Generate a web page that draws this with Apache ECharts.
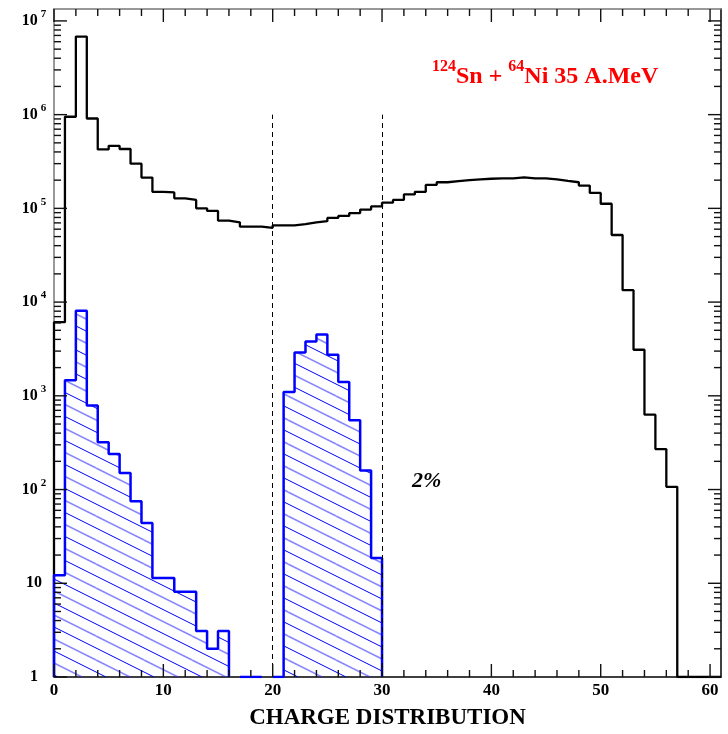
<!DOCTYPE html>
<html>
<head>
<meta charset="utf-8">
<script src="https://cdn.jsdelivr.net/npm/echarts@6/dist/echarts.min.js"></script>
<style>
  html, body { margin: 0; padding: 0; background: #fff; }
  #chart { width: 728px; height: 734px; }
</style>
</head>
<body>
<div id="chart"></div>
<script>
// one bin per unit of Z, bin i covers [i, i+1]
var allCounts = [
  6.1e3, 9.5e5, 6.8e6, 9.1e5, 4.25e5, 4.65e5, 4.3e5, 3.0e5, 2.13e5, 1.5e5,
  1.48e5, 1.28e5, 1.23e5, 1.0e5, 9.4e4, 7.4e4, 7.1e4, 6.4e4, 6.4e4, 6.2e4,
  6.6e4, 6.6e4, 6.8e4, 7.1e4, 7.3e4, 7.9e4, 8.3e4, 8.9e4, 9.7e4, 1.05e5,
  1.15e5, 1.23e5, 1.41e5, 1.5e5, 1.78e5, 1.9e5, 1.95e5, 2.0e5, 2.04e5, 2.07e5,
  2.09e5, 2.09e5, 2.14e5, 2.09e5, 2.09e5, 2.04e5, 1.96e5, 1.9e5, 1.75e5, 1.46e5,
  1.12e5, 5.2e4, 1.34e4, 3.1e3, 630, 270, 107, 1, 1, 1,
  1
];
// selected events (hatched), 0 = empty bin
var selCounts = [
  12.2, 1470, 8100, 790, 320, 240, 150, 75, 44, 11.4,
  11.4, 8.1, 8.1, 3.1, 2.0, 3.1, 0, 1, 1, 0,
  1, 1100, 2900, 3800, 4500, 2750, 1400, 550, 160, 18.6
];
var xTicks = [0, 10, 20, 30, 40, 50, 60];
var yTicks = [1, 10, 100, 1e3, 1e4, 1e5, 1e6, 1e7];
var cutZ = [20, 30];
var cutTop = 1e6;

var xMax = 61;
var yMax = 1.34e7;

var xMinor = [];
for (var i = 2; i < xMax; i += 2) if (i % 10 !== 0) xMinor.push(i);
var yMinor = [];
for (var k = 0; k < 7; k++) for (var m = 2; m < 10; m++) yMinor.push(m * Math.pow(10, k));

var serif = '"Liberation Serif", "Times New Roman", serif';

// outline points of a histogram, breaking the line on empty bins
function histPoints(vals) {
  var pts = [];
  vals.forEach(function (v, i) {
    var prev = i > 0 ? vals[i - 1] : 0;
    if (v > 0) {
      if (prev === 0) pts.push([i, 1]);
      pts.push([i, v], [i + 1, v]);
    } else if (prev > 0) {
      pts.push([i, 1], [i, '-']);
    }
  });
  if (vals[vals.length - 1] > 0) pts.push([vals.length, 1]);
  return pts;
}

function hatch() {
  var c = document.createElement('canvas');
  c.width = 48; c.height = 24;
  var g = c.getContext('2d');
  [-24, -12, 0, 12, 24].forEach(function (off) {
    var odd = Math.abs(off / 12) % 2 === 1;
    g.strokeStyle = odd ? 'rgba(40,40,255,0.55)' : '#0000ee';
    g.lineWidth = odd ? 1.6 : 1;
    g.beginPath();
    g.moveTo(0, off);
    g.lineTo(48, off + 24);
    g.stroke();
  });
  return c;
}

var cutLines = cutZ.map(function (z) {
  return [{ coord: [z, 1] }, { coord: [z, cutTop] }];
});

// y ticks drawn on left and right edges
var yTickData = [];
yTicks.forEach(function (v) { yTickData.push([30, v, 13]); });
yMinor.forEach(function (v) { yTickData.push([30, v, 7]); });

function tickLine(x1, y1, x2, y2) {
  return { type: 'line', shape: { x1: x1, y1: y1, x2: x2, y2: y2 }, style: { stroke: '#111', lineWidth: 1.4 }, silent: true, z: 10 };
}

function renderYTick(params, api) {
  var v = api.value(1);
  var len = api.value(2);
  var l = api.coord([0, v]);
  var r = api.coord([xMax, v]);
  return {
    type: 'group',
    children: [
      tickLine(l[0], l[1], l[0] + len, l[1]),
      tickLine(r[0], r[1], r[0] - len, r[1])
    ]
  };
}

var texts = [
  {
    id: 'reaction', type: 'text', left: 432, top: 59,
    style: {
      text: '{s|124}{m|Sn + }{s|64}{m|Ni 35 A.MeV}',
      rich: {
        m: { fontFamily: serif, fontWeight: 'bold', fontSize: 24, lineHeight: 36, fill: '#ff0000' },
        s: { fontFamily: serif, fontWeight: 'bold', fontSize: 16, lineHeight: 16, verticalAlign: 'top', fill: '#ff0000' }
      }
    }
  },
  {
    id: 'frac', type: 'text', left: 412, top: 470,
    style: { text: '2%', font: 'italic bold 22px ' + serif, fill: '#000' }
  }
];

var chart = echarts.init(document.getElementById('chart'));
chart.setOption({
  animation: false,
  backgroundColor: '#fff',
  grid: { left: 54, right: 7, top: 9, bottom: 57, containLabel: false, outerBoundsMode: 'none' },
  xAxis: [
    {
      type: 'value', position: 'bottom', min: 0, max: xMax,
      axisLine: { onZero: false, lineStyle: { color: '#000', width: 1.5 } },
      axisTick: { show: false },
      axisLabel: { customValues: xTicks, margin: 5, fontFamily: serif, fontWeight: 'bold', fontSize: 17, color: '#000' },
      splitLine: { show: false },
      name: 'CHARGE DISTRIBUTION',
      nameLocation: 'middle',
      nameGap: 30,
      nameTextStyle: { fontFamily: serif, fontWeight: 'bold', fontSize: 23, color: '#000' }
    },
    {
      type: 'value', position: 'top', min: 0, max: xMax,
      axisLine: { onZero: false, lineStyle: { color: '#777', width: 1.5 } },
      axisTick: { show: false }, axisLabel: { show: false }, splitLine: { show: false }
    }
  ],
  yAxis: [
    {
      type: 'log', logBase: 10, position: 'left', min: 1, max: yMax,
      axisLine: { onZero: false, lineStyle: { color: '#777', width: 1.5 } },
      axisTick: { show: false },
      axisLabel: {
        customValues: yTicks, margin: 20, align: 'center',
        formatter: function (v) {
          var e = Math.round(Math.log10(v));
          if (e === 0) return '{m|1}';
          if (e === 1) return '{m|10}';
          return '{m|10}{s|' + e + '}';
        },
        rich: {
          m: { fontFamily: serif, fontWeight: 'bold', fontSize: 16, lineHeight: 24, color: '#000' },
          s: { fontFamily: serif, fontWeight: 'bold', fontSize: 11, lineHeight: 11, verticalAlign: 'top', padding: [0, 0, 0, 3], color: '#000' }
        }
      },
      splitLine: { show: false }
    },
    {
      type: 'log', logBase: 10, position: 'right', min: 1, max: yMax,
      axisLine: { onZero: false, lineStyle: { color: '#000', width: 1.5 } },
      axisTick: { show: false }, axisLabel: { show: false }, splitLine: { show: false }
    }
  ],
  series: [
    {
      type: 'line',
      name: 'all',
      data: histPoints(allCounts),
      symbol: 'none',
      lineStyle: { color: '#000', width: 2.3 },
      z: 3,
      markLine: {
        silent: true,
        symbol: ['none', 'none'],
        label: { show: false },
        lineStyle: { color: '#000', width: 1, type: [5, 4] },
        data: cutLines
      }
    },
    {
      type: 'line',
      name: 'selected',
      data: histPoints(selCounts),
      symbol: 'none',
      lineStyle: { color: '#0000ff', width: 2.5 },
      areaStyle: { origin: 'start', color: { image: hatch(), repeat: 'repeat' }, opacity: 1 },
      z: 4
    },
    {
      type: 'custom', name: 'yticks', data: yTickData,
      renderItem: renderYTick, clip: false, silent: true, z: 5
    }
  ],
  graphic: texts
});

// x ticks on bottom and top edges, placed through the axis scale
var xTickEls = [];
function addXTicks(vals, len) {
  vals.forEach(function (v) {
    var lo = chart.convertToPixel({ xAxisIndex: 0, yAxisIndex: 0 }, [v, 1]);
    var hi = chart.convertToPixel({ xAxisIndex: 0, yAxisIndex: 0 }, [v, yMax]);
    xTickEls.push(tickLine(lo[0], lo[1], lo[0], lo[1] - len));
    xTickEls.push(tickLine(hi[0], hi[1], hi[0], hi[1] + len));
  });
}
addXTicks(xTicks, 13);
addXTicks(xMinor, 7);
chart.setOption({ graphic: texts.concat(xTickEls) });
</script>
</body>
</html>
